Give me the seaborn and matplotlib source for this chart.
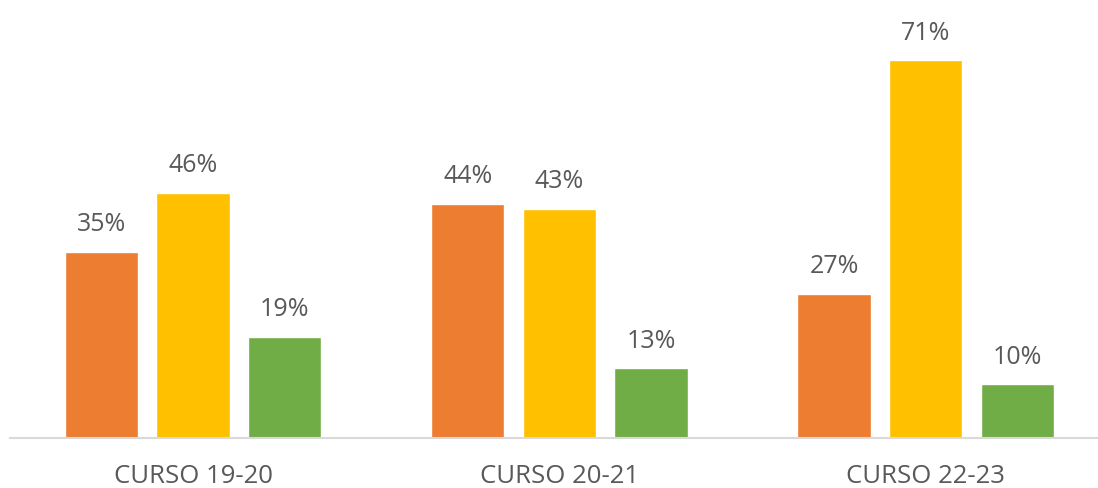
import matplotlib
matplotlib.use("Agg")
import matplotlib.pyplot as plt
import seaborn as sns
import pandas as pd

categories = ["CURSO 19-20", "CURSO 20-21", "CURSO 22-23"]
series = ["Serie 1", "Serie 2", "Serie 3"]
serie1 = [35, 44, 27]
serie2 = [46, 43, 71]
serie3 = [19, 13, 10]
colors = ["#ED7D31", "#FFC000", "#70AD47"]

rows = []
for name, vals in zip(series, [serie1, serie2, serie3]):
    for c, v in zip(categories, vals):
        rows.append({"curso": c, "serie": name, "valor": v})
df = pd.DataFrame(rows)

sns.set_style("white")
plt.rcParams["font.family"] = ["Open Sans", "DejaVu Sans"]

fig = plt.figure(figsize=(10.98, 4.88), dpi=100)
ax = fig.add_axes([10 / 1098, 50.5 / 488, 1 - 10 / 1098, 437.5 / 488])

sns.barplot(data=df, x="curso", y="valor", hue="serie", order=categories,
            hue_order=series, palette=colors, width=0.75, gap=0.2,
            saturation=1, legend=False, ax=ax, errorbar=None)

ax.set_xlim(-0.5, (1098 - 192.5) / 366.5)
ax.set_ylim(0, 437.5 / 5.31)

for container in ax.containers:
    for bar in container:
        h = bar.get_height()
        ax.annotate(f"{h:.0f}%", (bar.get_x() + bar.get_width() / 2, h),
                    xytext=(0, 15), textcoords="offset points",
                    ha="center", va="baseline", fontsize=18, color="#595959")

for s in ["top", "right", "left"]:
    ax.spines[s].set_visible(False)
ax.spines["bottom"].set_color("#D9D9D9")
ax.spines["bottom"].set_linewidth(1.5)
ax.set_yticks([])
ax.set_xlabel("")
ax.set_ylabel("")
ax.tick_params(axis="x", length=0, pad=33, labelsize=18.5, labelcolor="#595959")
for lbl in ax.get_xticklabels():
    lbl.set_verticalalignment("baseline")

fig.savefig("out.png", dpi=100)
